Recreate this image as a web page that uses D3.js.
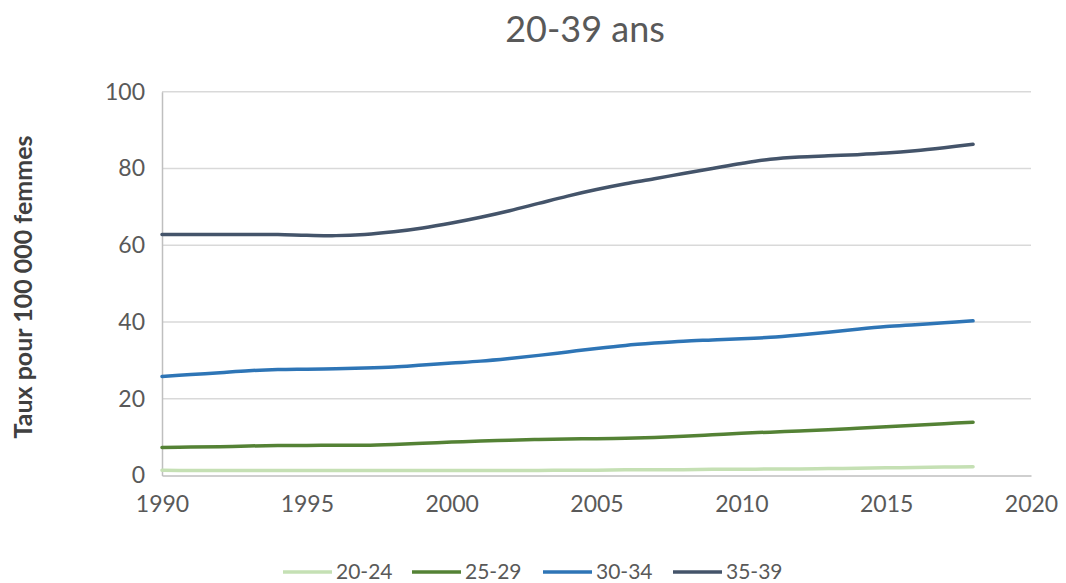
<!DOCTYPE html>
<html><head><meta charset="utf-8">
<script src="https://cdn.jsdelivr.net/npm/d3@7"></script>
<style>body{margin:0;background:#fff;}svg{display:block;font-family:Lato,"Open Sans",sans-serif;}</style>
</head><body><svg id="c" width="1066" height="583"></svg>
<script>
const years = d3.range(1990, 2019);
const s2024 = [1.4,1.3,1.3,1.3,1.3,1.3,1.3,1.3,1.3,1.3,1.3,1.3,1.3,1.3,1.4,1.4,1.5,1.5,1.5,1.6,1.6,1.7,1.7,1.8,1.9,2.0,2.1,2.2,2.3];
const s2529 = [7.3,7.4,7.5,7.7,7.8,7.8,7.9,7.9,8.1,8.4,8.7,9.0,9.2,9.4,9.5,9.6,9.7,9.9,10.2,10.6,11.0,11.3,11.6,11.9,12.3,12.7,13.1,13.5,13.9];
const s3034 = [25.8,26.3,26.8,27.3,27.6,27.7,27.8,28.0,28.3,28.8,29.3,29.8,30.5,31.3,32.2,33.1,33.9,34.5,35.0,35.3,35.6,36.0,36.6,37.3,38.1,38.8,39.3,39.8,40.3];
const s3539 = [62.8,62.8,62.8,62.8,62.8,62.6,62.5,62.8,63.5,64.5,65.8,67.3,69.0,70.9,72.8,74.5,76.0,77.3,78.7,80.0,81.3,82.4,83.0,83.3,83.6,84.0,84.6,85.4,86.3];
const seriesNames = ["20-24","25-29","30-34","35-39"];
const seriesColors = ["#c5e0b4","#548235","#2e75b6","#44546a"];
const xTicks = [1990,1995,2000,2005,2010,2015,2020];
const yTicks = [0,20,40,60,80,100];
const title = "20-39 ans";
const yLabel = "Taux pour 100 000 femmes";

const series = [s2024,s2529,s3034,s3539];
const svg = d3.select("#c");
const x = d3.scaleLinear().domain([1990,2020]).range([162,1031]);
const y = d3.scaleLinear().domain([0,100]).range([475.5,91.7]);
const txt = "#595959";

svg.append("text").attr("x",585).attr("y",42).attr("text-anchor","middle")
  .attr("font-size",36).attr("fill",txt).text(title);

// gridlines
svg.append("g").selectAll("line").data(yTicks.filter(d=>d>0)).join("line")
  .attr("x1",x(1990)).attr("x2",x(2020)).attr("y1",d=>y(d)).attr("y2",d=>y(d))
  .attr("stroke","#d9d9d9").attr("stroke-width",1.5);

const ya = svg.append("g").attr("transform",`translate(${x(1990)},0)`)
  .call(d3.axisLeft(y).tickValues(yTicks).tickSize(0).tickPadding(17));
ya.select(".domain").attr("stroke","#bfbfbf").attr("stroke-width",1.5);
ya.selectAll("text").attr("font-size",23).attr("fill",txt).attr("font-family","Lato,sans-serif");

const xa = svg.append("g").attr("transform",`translate(0,${y(0)})`)
  .call(d3.axisBottom(x).tickValues(xTicks).tickFormat(d3.format("d")).tickSize(0).tickPadding(20));
xa.select(".domain").attr("stroke","#bfbfbf").attr("stroke-width",1.5);
xa.selectAll("text").attr("font-size",23).attr("fill",txt).attr("font-family","Lato,sans-serif");

svg.append("text").attr("transform","translate(32,287) rotate(-90)").attr("text-anchor","middle")
  .attr("font-size",25).attr("font-weight","bold").attr("fill","#404040").text(yLabel);

const line = d3.line().x((d,i)=>x(years[i])).y(d=>y(d)).curve(d3.curveCatmullRom.alpha(0.5));
series.forEach((s,k)=>{
  svg.append("path").datum(s).attr("d",line).attr("fill","none")
    .attr("stroke",seriesColors[k]).attr("stroke-width",3.5).attr("stroke-linecap","round");
});

// legend
const lx = [283,412,543,673];
const lg = svg.append("g");
seriesNames.forEach((n,k)=>{
  lg.append("line").attr("x1",lx[k]).attr("x2",lx[k]+49).attr("y1",572).attr("y2",572)
    .attr("stroke",seriesColors[k]).attr("stroke-width",3.5);
  lg.append("text").attr("x",lx[k]+53).attr("y",579).attr("font-size",21).attr("fill",txt).text(n);
});
</script></body></html>
